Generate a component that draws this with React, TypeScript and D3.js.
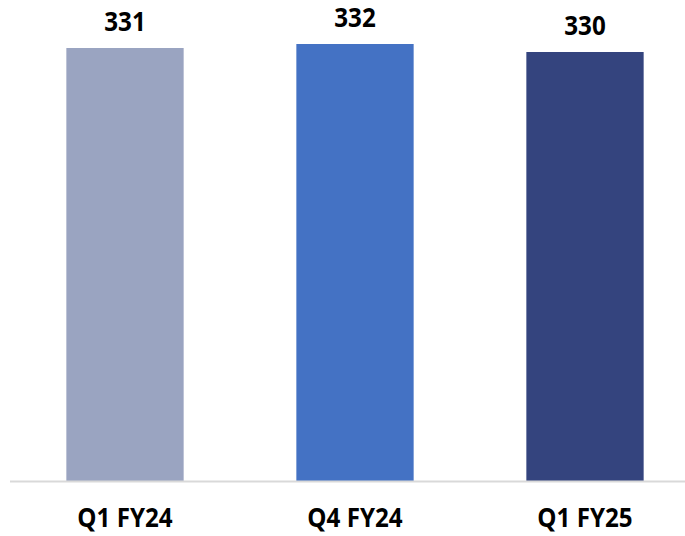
import React from "react";
import * as d3 from "d3";

const categories = ["Q1 FY24", "Q4 FY24", "Q1 FY25"];
const values = [331, 332, 330];
const colors = ["#9aa4c1", "#4472c4", "#34447e"];

const W = 685;
const H = 536;

export default function App() {
  const x = d3.scaleBand<string>().domain(categories).range([10, 700]).paddingInner(0.49).paddingOuter(0.245);
  const y = d3.scaleLinear().domain([222.75, 332]).range([481, 44]);
  const font = "'Open Sans', sans-serif";
  const sx = 0.93;
  return (
    <svg width={W} height={H} style={{ position: "absolute", left: 0, top: 0 }}>
      {categories.map((c, i) => {
        const cx = x(c)! + x.bandwidth() / 2;
        return (
          <g key={c}>
            <rect x={x(c)} y={y(values[i])} width={x.bandwidth()} height={481 - y(values[i])} fill={colors[i]} />
            <g transform={`translate(${cx},${y(values[i]) - 17.5}) scale(${sx},1)`}>
              <text x={0} y={0} textAnchor="middle" fontFamily={font} fontWeight={700} fontSize={26} fill="#000">
                {values[i]}
              </text>
            </g>
            <g transform={`translate(${cx},527) scale(${sx},1)`}>
              <text x={0} y={0} textAnchor="middle" fontFamily={font} fontWeight={700} fontSize={26} fill="#000">
                {c}
              </text>
            </g>
          </g>
        );
      })}
      <line x1={10} x2={W} y1={481.5} y2={481.5} stroke="#d9d9d9" strokeWidth={2} />
    </svg>
  );
}
